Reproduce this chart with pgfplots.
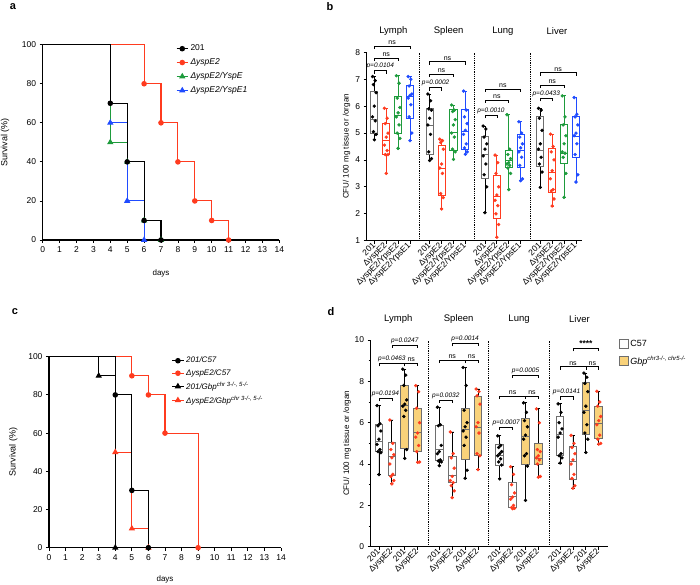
\documentclass[border=0pt]{standalone}
\usepackage{fontspec}
\setmainfont{Liberation Sans}
\usepackage{pgfplots}
\pgfplotsset{compat=1.18}
\usepgfplotslibrary{statistics}
\definecolor{cred}{HTML}{FF3B1F}
\definecolor{cgreen}{HTML}{1E9B3C}
\definecolor{cblue}{HTML}{1F4BFF}
\definecolor{cgray}{HTML}{6E6E6E}
\definecolor{cyel}{HTML}{F9D27A}
\pgfplotsset{
 every axis/.append style={scale only axis, anchor=south west, axis lines=left,
   axis line style={-, line width=1.1pt}, tick align=outside, major tick length=3pt,
   minor tick length=2pt,
   tick style={line width=0.8pt, black}, clip=false,
   /pgf/number format/assume math mode=true,
   tick label style={font=\fontsize{8.5}{9}\selectfont}},
 /pgfplots/boxplot/st/.style n args={5}{/pgfplots/boxplot/lower whisker=#1, /pgfplots/boxplot/lower quartile=#2, /pgfplots/boxplot/median=#3, /pgfplots/boxplot/upper quartile=#4, /pgfplots/boxplot/upper whisker=#5},
}
\newcommand{\BP}[5]{%
  \addplot[line width=0.9pt, #2, boxplot/draw direction=y, boxplot prepared={draw direction=y, draw position=#1, box extend=0.6, whisker extend=0.25, #4}] coordinates {};
  \addplot[only marks, mark=*, mark size=1.5pt, color=#3, mark options={draw=#3, fill=#3}] table[header=false, row sep=\\, y index=0, x expr={#1+0.3*(mod(\coordindex*3,5)/4-0.5)}]{#5};
}
\newcommand{\brk}[4]{\draw[line width=0.7pt] (axis cs:#1,#3) ++(0pt,-3pt) -- (axis cs:#1,#3) -- node[above, inner sep=1.2pt, font=\fontsize{7}{8}\selectfont]{#4} (axis cs:#2,#3) -- ++(0pt,-3pt);}
\newcommand{\pv}[1]{{\fontsize{6.5}{7}\selectfont\itshape p=#1}}
\begin{document}
\begin{tikzpicture}
\useasboundingbox (0,0) rectangle (700pt,585pt);
\node[font=\bfseries\fontsize{11}{12}\selectfont] at (13pt,578pt) {a};
\node[font=\bfseries\fontsize{11}{12}\selectfont] at (330pt,578pt) {b};
\node[font=\bfseries\fontsize{11}{12}\selectfont] at (15pt,273pt) {c};
\node[font=\bfseries\fontsize{11}{12}\selectfont] at (331pt,273pt) {d};

% ---------------- panel a
\begin{axis}[at={(42.7pt,345pt)}, width=236.6pt, height=195.3pt,
  xmin=0, xmax=14, ymin=0, ymax=100, xtick={0,...,14}, ytick={0,20,...,100},
  xlabel={days}, ylabel={Survival (\%)},
  xlabel style={at={(axis description cs:0.5,-0.17)}, anchor=center, font=\fontsize{8}{9}\selectfont},
  ylabel style={at={(axis description cs:-0.159,0.5)}, anchor=center, font=\fontsize{9}{10}\selectfont},
  legend style={at={(0.55,1.02)}, anchor=north west, draw=none, fill=none, font=\fontsize{8.5}{10}\selectfont, row sep=2.4pt},
  legend cell align=left, reverse legend,
  legend image code/.code={\draw[#1, mark indices={2}] plot coordinates {(0cm,0cm) (0.2cm,0cm) (0.4cm,0cm)};}]
\addplot[cblue, line width=1.1pt, const plot, mark=triangle*, mark size=2.6pt, mark indices={2,3,4}] coordinates {(0,100)(4,60)(5,20)(6,0)};
\addlegendentry{\textit{ΔyspE2/YspE1}}
\addplot[cgreen, line width=1.1pt, const plot, mark=triangle*, mark size=2.6pt, mark indices={2,3,4,5}] coordinates {(0,100)(4,50)(5,40)(6,10)(7,0)};
\addlegendentry{\textit{ΔyspE2/YspE}}
\addplot[cred, line width=1.1pt, const plot, mark=*, mark size=2.2pt, mark indices={2,3,4,5,6,7}] coordinates {(0,100)(6,80)(7,60)(8,40)(9,20)(10,10)(11,0)};
\addlegendentry{\textit{ΔyspE2}}
\addplot[black, line width=1.1pt, const plot, mark=*, mark size=2.2pt, mark indices={2,3,4,5}] coordinates {(0,100)(4,70)(5,40)(6,10)(7,0)};
\addlegendentry{201}
\end{axis}

% ---------------- panel c
\begin{axis}[at={(49pt,37.3pt)}, width=232pt, height=191pt,
  xmin=0, xmax=14, ymin=0, ymax=100, xtick={0,...,14}, ytick={0,20,...,100},
  xlabel={days}, ylabel={Survival (\%)},
  xlabel style={at={(axis description cs:0.5,-0.168)}, anchor=center, font=\fontsize{8}{9}\selectfont},
  ylabel style={at={(axis description cs:-0.154,0.5)}, anchor=center, font=\fontsize{9}{10}\selectfont},
  legend style={at={(0.515,1.02)}, anchor=north west, draw=none, fill=none, font=\fontsize{8}{9}\selectfont, row sep=1.2pt},
  legend cell align=left, reverse legend,
  legend image code/.code={\draw[#1, mark indices={2}] plot coordinates {(0cm,0cm) (0.2cm,0cm) (0.4cm,0cm)};}]
\addplot[cred, line width=1.1pt, const plot, mark=triangle*, mark size=2.6pt, mark indices={2,3,4}] coordinates {(0,100)(4,50)(5,10)(6,0)};
\addlegendentry{\textit{ΔyspE2/Gbp}\textsuperscript{\textit{chr 3-/-, 5-/-}}}
\addplot[black, line width=1.1pt, const plot, mark=triangle*, mark size=2.6pt, mark indices={2,3}] coordinates {(0,100)(3,90)(4,0)};
\addlegendentry{\textit{201/Gbp}\textsuperscript{\textit{chr 3-/-, 5-/-}}}
\addplot[cred, line width=1.1pt, const plot, mark=*, mark size=2.2pt, mark indices={2,3,4,5}] coordinates {(0,100)(5,90)(6,80)(7,60)(9,0)};
\addlegendentry{\textit{ΔyspE2/C57}}
\addplot[black, line width=1.1pt, const plot, mark=*, mark size=2.2pt, mark indices={2,3,4}] coordinates {(0,100)(4,80)(5,30)(6,0)};
\addlegendentry{\textit{201/C57}}
\end{axis}

% ---------------- panel b
\begin{axis}[at={(366.7pt,344.3pt)}, width=215.6pt, height=188.4pt,
  xmin=-0.64, xmax=17.48, ymin=1, ymax=8, ytick={1,...,8},
  xtick={0,1,2,3,4.65,5.65,6.65,7.65,9.3,10.3,11.3,12.3,13.95,14.95,15.95,16.95},
  xticklabels={201,ΔyspE2,ΔyspE2/YpsE2,ΔyspE2/YpsE1,201,ΔyspE2,ΔyspE2/YpsE2,ΔyspE2/YpsE1,201,ΔyspE2,ΔyspE2/YpsE2,ΔyspE2/YpsE1,201,ΔyspE2,ΔyspE2/YpsE2,ΔyspE2/YpsE1},
  xticklabel style={rotate=45, anchor=east, font=\fontsize{8.5}{8.5}\selectfont, inner sep=0.5pt},
  ylabel={CFU/ 100 mg tissue or /organ},
  ylabel style={at={(axis description cs:-0.093,0.5)}, anchor=center, font=\fontsize{8}{9}\selectfont}]
\BP{0}{draw=cgray, boxplot/every whisker/.style={black}}{black}{st={4.75}{5.0}{5.52}{6.55}{7.1}}{7.1\\6.95\\6.8\\6.5\\6.0\\5.6\\5.45\\5.05\\4.95\\4.75\\}
\BP{1}{draw=cred}{cred}{st={3.5}{4.22}{4.72}{5.34}{5.92}}{5.92\\5.55\\5.35\\5.0\\4.85\\4.55\\4.35\\4.2\\4.2\\3.5\\}
\BP{2}{draw=cgreen}{cgreen}{st={4.43}{4.99}{5.67}{6.35}{7.13}}{7.13\\6.85\\6.3\\5.95\\5.75\\5.6\\5.3\\5.0\\4.8\\4.43\\}
\BP{3}{draw=cblue}{cblue}{st={4.72}{5.55}{6.35}{6.76}{7.1}}{7.1\\7.0\\6.75\\6.45\\6.4\\6.3\\6.05\\5.6\\5.0\\4.72\\}
\BP{4.65}{draw=cgray, boxplot/every whisker/.style={black}}{black}{st={3.98}{4.22}{5.30}{5.92}{6.45}}{6.45\\6.2\\5.9\\5.85\\5.55\\5.3\\4.95\\4.3\\4.05\\3.98\\}
\BP{5.65}{draw=cred}{cred}{st={2.18}{2.67}{3.69}{4.53}{4.77}}{4.77\\4.72\\4.65\\4.4\\3.85\\3.7\\3.5\\2.75\\2.6\\2.18\\}
\BP{6.65}{draw=cgreen}{cgreen}{st={4.02}{4.37}{5.03}{5.86}{6.04}}{6.04\\5.85\\5.8\\5.5\\5.3\\5.0\\4.85\\4.4\\4.3\\4.02\\}
\BP{7.65}{draw=cblue}{cblue}{st={4.21}{4.40}{5.05}{5.86}{6.56}}{6.56\\5.85\\5.6\\5.35\\5.1\\4.95\\4.6\\4.45\\4.3\\4.21\\}
\BP{9.3}{draw=cgray, boxplot/every whisker/.style={black}}{black}{st={2.04}{3.32}{4.2}{4.87}{5.26}}{5.26\\5.15\\4.85\\4.6\\4.4\\4.15\\3.85\\3.45\\3.0\\2.04\\}
\BP{10.3}{draw=cred}{cred}{st={1.13}{1.83}{2.64}{3.44}{4.18}}{4.18\\3.9\\3.5\\3.0\\2.7\\2.5\\2.3\\2.0\\1.6\\1.13\\}
\BP{11.3}{draw=cgreen}{cgreen}{st={2.9}{3.72}{4.0}{4.37}{5.68}}{5.68\\4.4\\4.2\\4.05\\3.9\\3.85\\3.8\\3.7\\3.5\\2.9\\}
\BP{12.3}{draw=cblue}{cblue}{st={3.23}{3.71}{4.37}{4.96}{5.42}}{5.42\\5.0\\4.85\\4.6\\4.45\\4.3\\4.1\\3.8\\3.3\\3.23\\}
\BP{13.95}{draw=cgray, boxplot/every whisker/.style={black}}{black}{st={2.98}{3.75}{4.37}{5.61}{5.92}}{5.92\\5.85\\5.55\\5.1\\4.6\\4.4\\4.1\\3.85\\3.55\\2.98\\}
\BP{14.95}{draw=cred}{cred}{st={2.29}{2.80}{3.54}{4.43}{4.96}}{4.96\\4.5\\4.3\\4.0\\3.6\\3.3\\2.9\\2.85\\2.55\\2.29\\}
\BP{15.95}{draw=cgreen}{cgreen}{st={2.61}{3.87}{4.25}{5.32}{6.38}}{6.38\\5.6\\5.3\\4.9\\4.6\\4.3\\4.25\\4.1\\3.5\\2.61\\}
\BP{16.95}{draw=cblue}{cblue}{st={3.18}{4.08}{4.89}{5.61}{6.32}}{6.32\\5.7\\5.6\\5.3\\5.0\\4.9\\4.6\\4.2\\3.45\\3.18\\}
\draw[densely dotted, line width=0.8pt] (axis cs:3.8,1) -- (axis cs:3.8,8);
\draw[densely dotted, line width=0.8pt] (axis cs:8.45,1) -- (axis cs:8.45,8);
\draw[densely dotted, line width=0.8pt] (axis cs:13.1,1) -- (axis cs:13.1,8);
\node[font=\fontsize{9.5}{10}\selectfont] at (axis cs:1.6,8.8) {Lymph};
\node[font=\fontsize{9.5}{10}\selectfont] at (axis cs:6.25,8.8) {Spleen};
\node[font=\fontsize{9.5}{10}\selectfont] at (axis cs:10.8,8.8) {Lung};
\node[font=\fontsize{9.5}{10}\selectfont] at (axis cs:15.35,8.8) {Liver};
\brk{0}{3}{8.23}{ns}\brk{0}{2}{7.78}{ns}\brk{0}{1}{7.32}{\pv{0.0104}}
\brk{4.65}{7.65}{7.65}{ns}\brk{4.65}{6.65}{7.19}{ns}\brk{4.65}{5.65}{6.68}{\pv{0.0002}}
\brk{9.3}{12.3}{6.64}{ns}\brk{9.3}{11.3}{6.23}{ns}\brk{9.3}{10.3}{5.67}{\pv{0.0010}}
\brk{13.95}{16.95}{7.24}{ns}\brk{13.95}{15.95}{6.78}{ns}\brk{13.95}{14.95}{6.29}{\pv{0.0433}}
\end{axis}

% ---------------- panel d
\begin{axis}[at={(370.7pt,38.3pt)}, width=237.6pt, height=206.7pt,
  xmin=-0.64, xmax=17.78, ymin=0, ymax=10, ytick={0,2,...,10}, minor y tick num=1,
  xtick={0,1,2,3,4.68,5.68,6.68,7.68,9.36,10.36,11.36,12.36,14.04,15.04,16.04,17.04},
  xticklabels={201,ΔyspE2,201,ΔyspE2,201,ΔyspE2,201,ΔyspE2,201,ΔyspE2,201,ΔyspE2,201,ΔyspE2,201,ΔyspE2},
  xticklabel style={rotate=45, anchor=east, font=\fontsize{8.5}{9}\selectfont, inner sep=0.5pt},
  ylabel={CFU/ 100 mg tissue or /organ},
  ylabel style={at={(axis description cs:-0.10,0.5)}, anchor=center, font=\fontsize{8}{9}\selectfont},
  legend style={at={(1.03,1.02)}, anchor=north west, draw=none, fill=none, font=\fontsize{9}{10}\selectfont, row sep=4pt},
  legend cell align=left]
\addlegendimage{legend image code/.code={\draw[draw=cgray, fill=white, line width=0.8pt] (0pt,-4.5pt) rectangle (9pt,4.5pt);}}
\addlegendentry{C57}
\addlegendimage{legend image code/.code={\draw[draw=cgray, fill=cyel, line width=0.8pt] (0pt,-4.5pt) rectangle (9pt,4.5pt);}}
\addlegendentry{\textit{Gbp}\textsuperscript{\textit{chr3-/-, chr5-/-}}}
\BP{0}{draw=cgray, fill=white, boxplot/every whisker/.style={black}}{black}{st={3.49}{4.61}{5.09}{5.92}{6.83}}{6.83\\5.95\\5.85\\5.6\\5.2\\4.95\\4.7\\4.6\\4.55\\3.49\\}
\BP{1}{draw=cgray, fill=white, boxplot/every whisker/.style={black}}{cred}{st={3.04}{3.44}{4.35}{5.02}{6.13}}{6.13\\5.0\\4.7\\4.45\\4.3\\4.0\\3.5\\3.4\\3.2\\3.04\\}
\BP{2}{draw=cgray, fill=cyel, boxplot/every whisker/.style={black}}{black}{st={4.27}{4.77}{6.83}{7.81}{8.59}}{8.59\\8.3\\7.8\\7.1\\6.9\\6.8\\6.6\\6.3\\4.7\\4.27\\}
\BP{3}{draw=cgray, fill=cyel, boxplot/every whisker/.style={black}}{cred}{st={4.08}{4.61}{5.52}{6.67}{7.79}}{7.79\\7.5\\6.7\\6.0\\5.5\\5.3\\4.9\\4.6\\4.1\\4.08\\}
\BP{4.68}{draw=cgray, fill=white, boxplot/every whisker/.style={black}}{black}{st={3.92}{4.16}{4.69}{5.89}{6.75}}{6.75\\5.9\\5.85\\4.9\\4.6\\4.5\\4.2\\4.15\\4.1\\3.92\\}
\BP{5.68}{draw=cgray, fill=white, boxplot/every whisker/.style={black}}{cred}{st={2.37}{3.09}{3.44}{4.35}{5.55}}{5.55\\4.5\\4.3\\3.8\\3.4\\3.2\\3.1\\2.95\\2.7\\2.37\\}
\BP{6.68}{draw=cgray, fill=cyel, boxplot/every whisker/.style={black}}{black}{st={3.31}{4.21}{5.65}{6.67}{8.67}}{8.67\\7.8\\6.6\\6.0\\5.8\\5.6\\5.3\\4.9\\3.7\\3.31\\}
\BP{7.68}{draw=cgray, fill=cyel, boxplot/every whisker/.style={black}}{cred}{st={3.73}{4.43}{5.76}{7.25}{7.63}}{7.63\\7.5\\7.3\\6.9\\6.0\\5.8\\5.5\\4.5\\4.4\\3.73\\}
\BP{9.36}{draw=cgray, fill=white, boxplot/every whisker/.style={black}}{black}{st={3.28}{3.95}{4.43}{4.93}{5.36}}{5.36\\4.9\\4.8\\4.6\\4.5\\4.4\\4.25\\4.1\\3.95\\3.28\\}
\BP{10.36}{draw=cgray, fill=white, boxplot/every whisker/.style={black}}{cred}{st={1.84}{1.9}{2.45}{3.12}{3.87}}{3.87\\3.5\\3.0\\2.6\\2.4\\2.3\\2.0\\1.9\\1.86\\1.84\\}
\BP{11.36}{draw=cgray, fill=cyel, boxplot/every whisker/.style={black}}{black}{st={2.24}{3.97}{5.33}{6.19}{6.96}}{6.96\\6.5\\6.1\\5.8\\5.4\\5.2\\4.5\\4.4\\3.9\\2.24\\}
\BP{12.36}{draw=cgray, fill=cyel, boxplot/every whisker/.style={black}}{cred}{st={3.36}{3.97}{4.27}{5.01}{6.67}}{6.67\\6.0\\4.7\\4.6\\4.4\\4.3\\4.2\\4.0\\3.4\\3.36\\}
\BP{14.04}{draw=cgray, fill=white, boxplot/every whisker/.style={black}}{black}{st={4.05}{4.43}{5.44}{6.32}{6.91}}{6.91\\6.5\\6.0\\5.7\\5.5\\5.3\\4.5\\4.4\\4.3\\4.05\\}
\BP{15.04}{draw=cgray, fill=white, boxplot/every whisker/.style={black}}{cred}{st={2.83}{3.25}{4.13}{4.83}{5.39}}{5.39\\5.0\\4.8\\4.5\\4.2\\4.0\\3.5\\3.3\\2.95\\2.83\\}
\BP{16.04}{draw=cgray, fill=cyel, boxplot/every whisker/.style={black}}{black}{st={4.56}{5.44}{6.61}{7.97}{8.4}}{8.4\\8.2\\7.9\\7.5\\6.8\\6.5\\5.9\\5.5\\5.2\\4.56\\}
\BP{17.04}{draw=cgray, fill=cyel, boxplot/every whisker/.style={black}}{cred}{st={4.96}{5.23}{5.95}{6.8}{7.52}}{7.52\\7.0\\6.8\\6.3\\6.1\\5.9\\5.4\\5.2\\5.0\\4.96\\}
\draw[densely dotted, line width=0.8pt] (axis cs:3.84,0) -- (axis cs:3.84,10);
\draw[densely dotted, line width=0.8pt] (axis cs:8.52,0) -- (axis cs:8.52,10);
\draw[densely dotted, line width=0.8pt] (axis cs:13.2,0) -- (axis cs:13.2,10);
\node[font=\fontsize{9.5}{10}\selectfont] at (axis cs:1.5,11.0) {Lymph};
\node[font=\fontsize{9.5}{10}\selectfont] at (axis cs:6.18,11.0) {Spleen};
\node[font=\fontsize{9.5}{10}\selectfont] at (axis cs:10.86,11.0) {Lung};
\node[font=\fontsize{9.5}{10}\selectfont] at (axis cs:15.54,11.0) {Liver};
\brk{1}{3}{9.76}{\pv{0.0247}}\brk{0}{2}{8.87}{\pv{0.0463}}\brk{2}{3}{8.87}{ns}\brk{0}{1}{7.18}{\pv{0.0194}}
\brk{5.68}{7.68}{9.84}{\pv{0.0014}}\brk{4.68}{6.68}{9.03}{ns}\brk{6.68}{7.68}{9.03}{ns}\brk{4.68}{5.68}{7.1}{\pv{0.0032}}
\brk{10.36}{12.36}{8.3}{\pv{0.0005}}\brk{9.36}{11.36}{7.29}{ns}\brk{11.36}{12.36}{7.29}{ns}\brk{9.36}{10.36}{5.78}{\pv{0.0007}}
\brk{15.04}{17.04}{9.6}{\textbf{\fontsize{8.5}{9}\selectfont ****}}\brk{14.04}{16.04}{8.71}{ns}\brk{16.04}{17.04}{8.71}{ns}\brk{14.04}{15.04}{7.26}{\pv{0.0141}}
\end{axis}
\end{tikzpicture}
\end{document}
